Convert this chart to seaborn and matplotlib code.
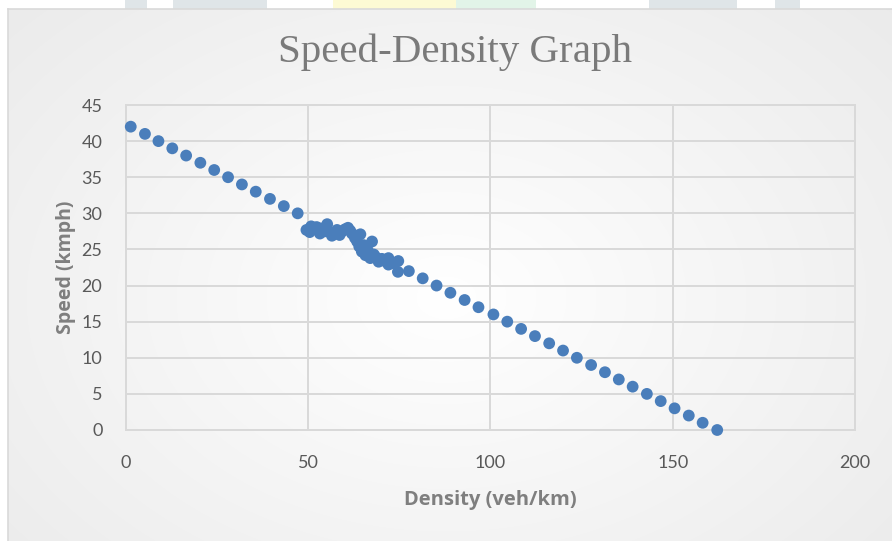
import numpy as np
import pandas as pd
import matplotlib
matplotlib.use("Agg")
import matplotlib.pyplot as plt
from matplotlib.patches import Rectangle
import seaborn as sns

# Free-flow branch of the speed-density relation
density_upper = [1.3, 5.2, 8.9, 12.7, 16.5, 20.4, 24.2, 28.0, 31.8, 35.6, 39.5, 43.3, 47.1]
speed_upper = [42, 41, 40, 39, 38, 37, 36, 35, 34, 33, 32, 31, 30]

# Observed cluster around the mid-density range
density_obs = [49.5, 50.4, 50.8, 51.6, 52.3, 53.2, 53.6, 54.4, 55.2, 55.8, 56.5, 57.2,
               57.9, 58.6, 59.3, 60.1, 60.9, 61.5, 62.0, 62.8, 63.4, 64.3, 64.0, 64.7,
               65.2, 65.7, 66.3, 67.0, 67.5, 68.0, 68.6, 69.3, 70.2, 71.0, 72.0, 72.0,
               73.0, 74.7, 74.6]
speed_obs = [27.7, 27.4, 28.2, 27.8, 28.1, 27.2, 27.9, 27.5, 28.5, 27.4, 26.9, 27.3,
             27.7, 27.0, 27.5, 27.8, 28.0, 27.6, 27.2, 26.6, 26.1, 27.1, 25.4, 24.7,
             25.6, 24.2, 24.9, 23.8, 26.1, 24.3, 23.9, 23.3, 23.7, 23.4, 23.8, 22.9,
             23.1, 23.4, 21.9]

# Congested branch down to jam density
density_lower = [77.6, 81.4, 85.2, 89.0, 92.9, 96.7, 100.8, 104.6, 108.4, 112.2, 116.1,
                 119.9, 123.7, 127.6, 131.4, 135.2, 139.0, 142.9, 146.7, 150.5, 154.4,
                 158.2, 162.2]
speed_lower = [22, 21, 20, 19, 18, 17, 16, 15, 14, 13, 12, 11, 10, 9, 8, 7, 6, 5, 4, 3,
               2, 1, 0]

x_ticks = [0, 50, 100, 150, 200]
y_ticks = [0, 5, 10, 15, 20, 25, 30, 35, 40, 45]

df = pd.DataFrame({
    "density": density_upper + density_obs + density_lower,
    "speed": speed_upper + speed_obs + speed_lower,
})

W, H = 892, 541
fig = plt.figure(figsize=(W / 100, H / 100), dpi=100)
fig.patch.set_facecolor("white")

# Soft radial shading of the chart area
bg = fig.add_axes([0, 0, 1, 1], zorder=-10)
yy, xx = np.mgrid[0:H, 0:W]
r = np.sqrt(((xx - W * 0.5) / (W * 0.6)) ** 2 + ((yy - H * 0.55) / (H * 0.7)) ** 2)
shade = 1.0 - 0.07 * np.clip(r, 0, 1.3)
img = np.dstack([shade, shade, shade])
img[:9, :, :] = 1.0
img[:, :8, :] = 1.0
bg.imshow(img, extent=[0, W, H, 0], aspect="auto", interpolation="bilinear")
bg.set_xlim(0, W)
bg.set_ylim(H, 0)
bg.axis("off")

# Faint marks in the top margin
for x0, x1, c in [(125, 147, "#dfe5e8"), (173, 267, "#dfe5e8"), (333, 456, "#fdfad4"),
                  (456, 536, "#e2f4e8"), (649, 737, "#dfe5e8"), (775, 800, "#dfe5e8")]:
    bg.add_patch(Rectangle((x0, 0), x1 - x0, 8.5, color=c, lw=0))
# Chart border
bg.plot([8, W + 5], [9, 9], color="#d9d9d9", lw=1.2)
bg.plot([8, 8], [9, H + 5], color="#d9d9d9", lw=1.2)

left, right, top, bottom = 126, 855, 105, 430
ax = fig.add_axes([left / W, 1 - bottom / H, (right - left) / W, (bottom - top) / H])
ax.set_facecolor("none")

sns.scatterplot(data=df, x="density", y="speed", ax=ax, color="#4a7ebb",
                s=72, edgecolor="none", linewidth=0, zorder=3, clip_on=False)

ax.set_xlim(0, 200)
ax.set_ylim(0, 45)
ax.set_xticks(x_ticks)
ax.set_yticks(y_ticks)
ax.grid(True, color="#d9d9d9", lw=1.4)
ax.set_axisbelow(True)
for sp in ax.spines.values():
    sp.set_color("#d9d9d9")
    sp.set_linewidth(1.4)

ax.tick_params(length=0)
ax.tick_params(axis="y", pad=17)
ax.tick_params(axis="x", pad=18)
for lbl in ax.get_xticklabels() + ax.get_yticklabels():
    lbl.set_fontfamily(["Lato", "DejaVu Sans"])
    lbl.set_fontsize(13)
    lbl.set_color("#595959")

ax.set_xlabel("Density (veh/km)", fontsize=14.5, fontweight="bold", color="#7f7f7f",
              family=["Open Sans", "DejaVu Sans"], labelpad=14)
ax.set_ylabel("Speed (kmph)", fontsize=14, fontweight="bold", color="#7f7f7f",
              family=["Open Sans", "DejaVu Sans"], labelpad=4)

fig.text(454.5 / W, 1 - 52 / H, "Speed-Density Graph", ha="center", va="center",
         fontsize=29.5, color="#7a7a7a", family=["Liberation Serif", "DejaVu Serif"])

fig.savefig("out.png", dpi=100)
